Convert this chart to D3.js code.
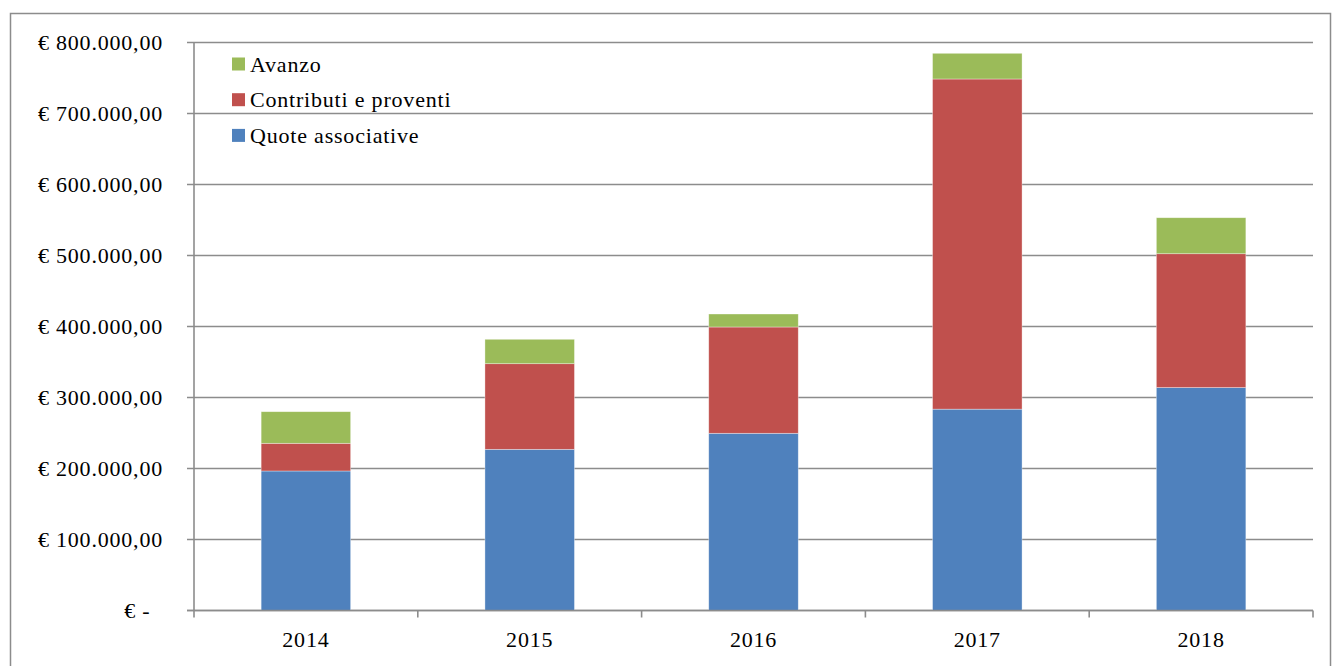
<!DOCTYPE html>
<html>
<head>
<meta charset="utf-8">
<script src="https://d3js.org/d3.v7.min.js"></script>
<style>
body { margin: 0; background: #fff; }
svg text { font-family: "Liberation Serif", "DejaVu Serif", serif; fill: #000; font-size: 22px; letter-spacing: 0.8px; }
</style>
</head>
<body>
<svg id="chart" width="1334" height="666"></svg>
<script>
// data (values in euro)
var years = ["2014", "2015", "2016", "2017", "2018"];
var quote = [196500, 227000, 249600, 283600, 314000];
var contributi = [39000, 120600, 149700, 465000, 188500];
var avanzo = [44500, 34400, 18300, 36200, 50700];
var seriesNames = ["Quote associative", "Contributi e proventi", "Avanzo"];
var colors = ["#4F81BD", "#C0504D", "#9BBB59"];
var yTicks = [0, 100000, 200000, 300000, 400000, 500000, 600000, 700000, 800000];

var svg = d3.select("#chart");
var plotL = 194, plotR = 1313, plotT = 42.5, plotB = 610.5;

// outer frame
svg.append("rect")
    .attr("x", 10.5).attr("y", 13.5)
    .attr("width", 1320).attr("height", 700)
    .attr("fill", "none").attr("stroke", "#8c8c8c").attr("stroke-width", 1.5);

var x = d3.scaleBand().domain(years).range([plotL, plotR]).paddingInner(0.6).paddingOuter(0.3);
var xb = d3.scaleBand().domain(years).range([plotL, plotR]); // category boundaries for ticks
var y = d3.scaleLinear().domain([0, 800000]).range([plotB, plotT]);

var fmt = function(d) {
    if (d === 0) return "€ -\u00A0\u00A0";
    return "€ " + d3.format(",.2f")(d).replace(/,/g, "#").replace(".", ",").replace(/#/g, ".");
};

// gridlines
svg.append("g").selectAll("line").data(yTicks).enter().append("line")
    .attr("x1", plotL - 7).attr("x2", plotR)
    .attr("y1", function(d) { return y(d); }).attr("y2", function(d) { return y(d); })
    .attr("stroke", "#8c8c8c").attr("stroke-width", 1.6);

// left axis line
svg.append("line").attr("x1", plotL).attr("x2", plotL).attr("y1", plotT).attr("y2", plotB)
    .attr("stroke", "#8c8c8c").attr("stroke-width", 1.6);

// y labels
svg.append("g").selectAll("text").data(yTicks).enter().append("text")
    .attr("x", 163).attr("y", function(d) { return y(d); })
    .attr("dy", "0.32em").attr("text-anchor", "end")
    .text(fmt);

// stacked bars
var table = years.map(function(yr, i) {
    return { year: yr, q: quote[i], c: contributi[i], a: avanzo[i] };
});
var layers = d3.stack().keys(["q", "c", "a"])(table);

svg.append("g").selectAll("g").data(layers).enter().append("g")
    .attr("fill", function(d, i) { return colors[i]; })
    .selectAll("rect").data(function(d) { return d; }).enter().append("rect")
    .attr("x", function(d) { return x(d.data.year); })
    .attr("width", x.bandwidth())
    .attr("y", function(d) { return y(d[1]); })
    .attr("height", function(d) { return y(d[0]) - y(d[1]); })
    .attr("stroke", "rgba(255,255,255,0.5)").attr("stroke-width", 0.7);

// x axis
svg.append("line").attr("x1", plotL - 7).attr("x2", plotR).attr("y1", plotB).attr("y2", plotB)
    .attr("stroke", "#8c8c8c").attr("stroke-width", 1.6);
var bounds = years.map(function(d) { return xb(d); }).concat([plotR]);
svg.append("g").selectAll("line").data(bounds).enter().append("line")
    .attr("x1", function(d) { return d; }).attr("x2", function(d) { return d; })
    .attr("y1", plotB).attr("y2", plotB + 7)
    .attr("stroke", "#8c8c8c").attr("stroke-width", 1.6);
svg.append("g").selectAll("text").data(years).enter().append("text")
    .attr("x", function(d) { return x(d) + x.bandwidth() / 2; })
    .attr("y", 647).attr("text-anchor", "middle")
    .text(function(d) { return d; });

// legend
var legendOrder = [2, 1, 0];
var lg = svg.append("g").selectAll("g").data(legendOrder).enter().append("g")
    .attr("transform", function(d, i) { return "translate(232," + (64 + i * 35.7) + ")"; });
lg.append("rect").attr("x", 0).attr("y", -6.5).attr("width", 13).attr("height", 13)
    .attr("fill", function(d) { return colors[d]; });
lg.append("text").attr("x", 18).attr("dy", "0.35em")
    .text(function(d) { return seriesNames[d]; });
</script>
</body>
</html>
